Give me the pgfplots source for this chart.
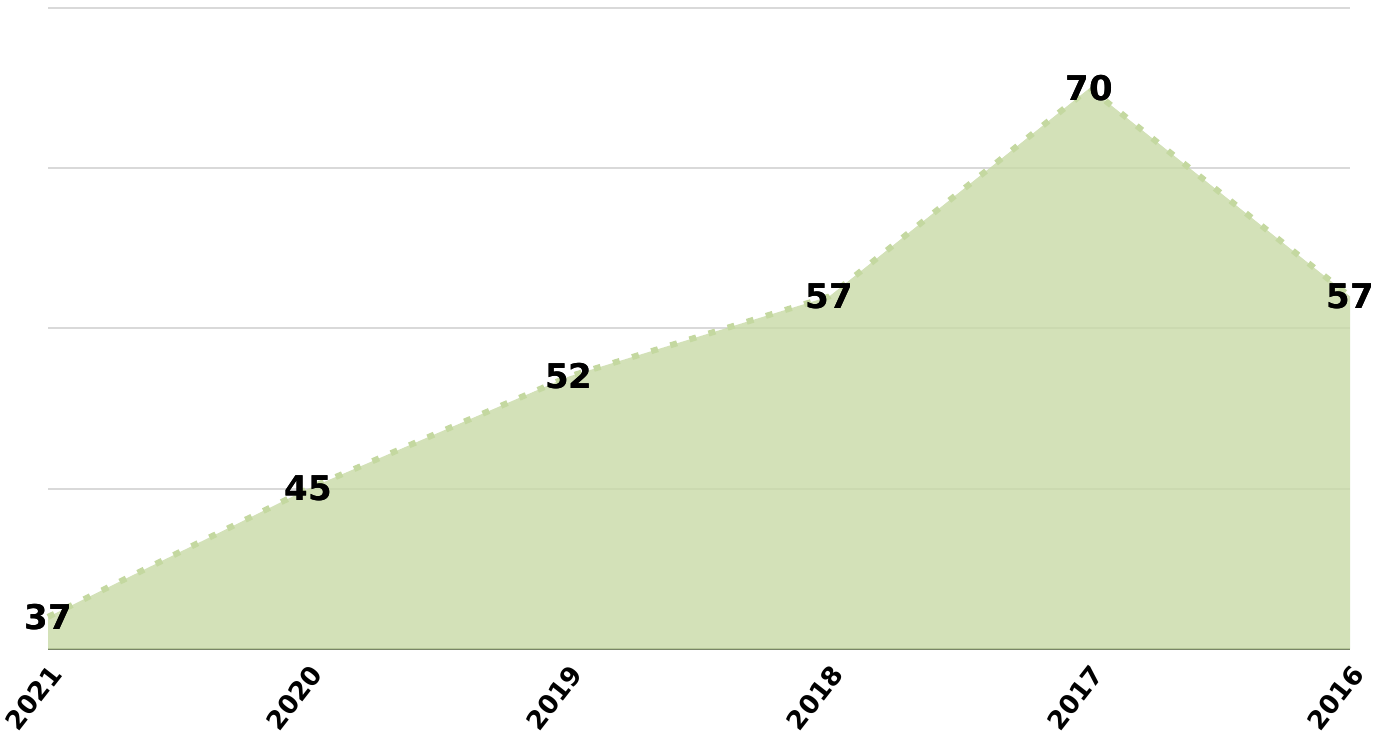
\documentclass[border=0pt]{standalone}
\usepackage{fontspec}
\setmainfont{DejaVu Sans}
\usepackage{pgfplots}
\pgfplotsset{compat=1.18}
\usepackage{pdfrender}
\definecolor{areafill}{RGB}{200,218,166}
\definecolor{dotline}{RGB}{196,216,160}
\definecolor{gridc}{RGB}{217,217,217}
\definecolor{basec}{RGB}{112,124,96}
\newcommand\halo[1]{\makebox[0pt][l]{\textpdfrender{TextRenderingMode=Stroke,LineWidth=3pt,StrokeColor=white,LineJoin=1}{#1}}#1}
\begin{document}
\begin{tikzpicture}
\begin{axis}[
  name=ax,
  at={(24pt,44.5pt)}, anchor=south west,
  scale only axis, width=651pt, height=320.5pt,
  xmin=0, xmax=5, ymin=35, ymax=75,
  xtick={0,1,2,3,4,5},
  xticklabels={2021,2020,2019,2018,2017,2016},
  ytick={35,45,55,65,75}, yticklabels={},
  ymajorgrids, grid style={gridc, line width=1pt},
  major tick length=0pt,
  axis x line*=bottom, axis y line*=left,
  x axis line style={basec, line width=0.8pt, -},
  y axis line style={draw=none},
  xticklabel style={font=\bfseries\fontsize{13}{13}\selectfont, xshift=4pt, yshift=-10pt, rotate=52, anchor=east, inner sep=0pt},
  clip=false,
]
\addplot[fill=areafill, fill opacity=0.8, draw=none] coordinates {(0,37) (1,45) (2,52) (3,57) (4,70) (5,57)} \closedcycle;
\addplot[dotline, line width=3pt, dash pattern=on 3.5pt off 6.5pt,
  nodes near coords={\halo{\pgfplotspointmeta}},
  every node near coord/.style={anchor=center, font=\bfseries\fontsize{17}{17}\selectfont, text=black, inner sep=0pt},
  point meta=explicit symbolic] coordinates {(0,37)[37] (1,45)[45] (2,52)[52] (3,57)[57] (4,70)[70] (5,57)[57]};
\end{axis}
\path (0,0) rectangle (697.5pt,369pt);
\end{tikzpicture}
\end{document}
